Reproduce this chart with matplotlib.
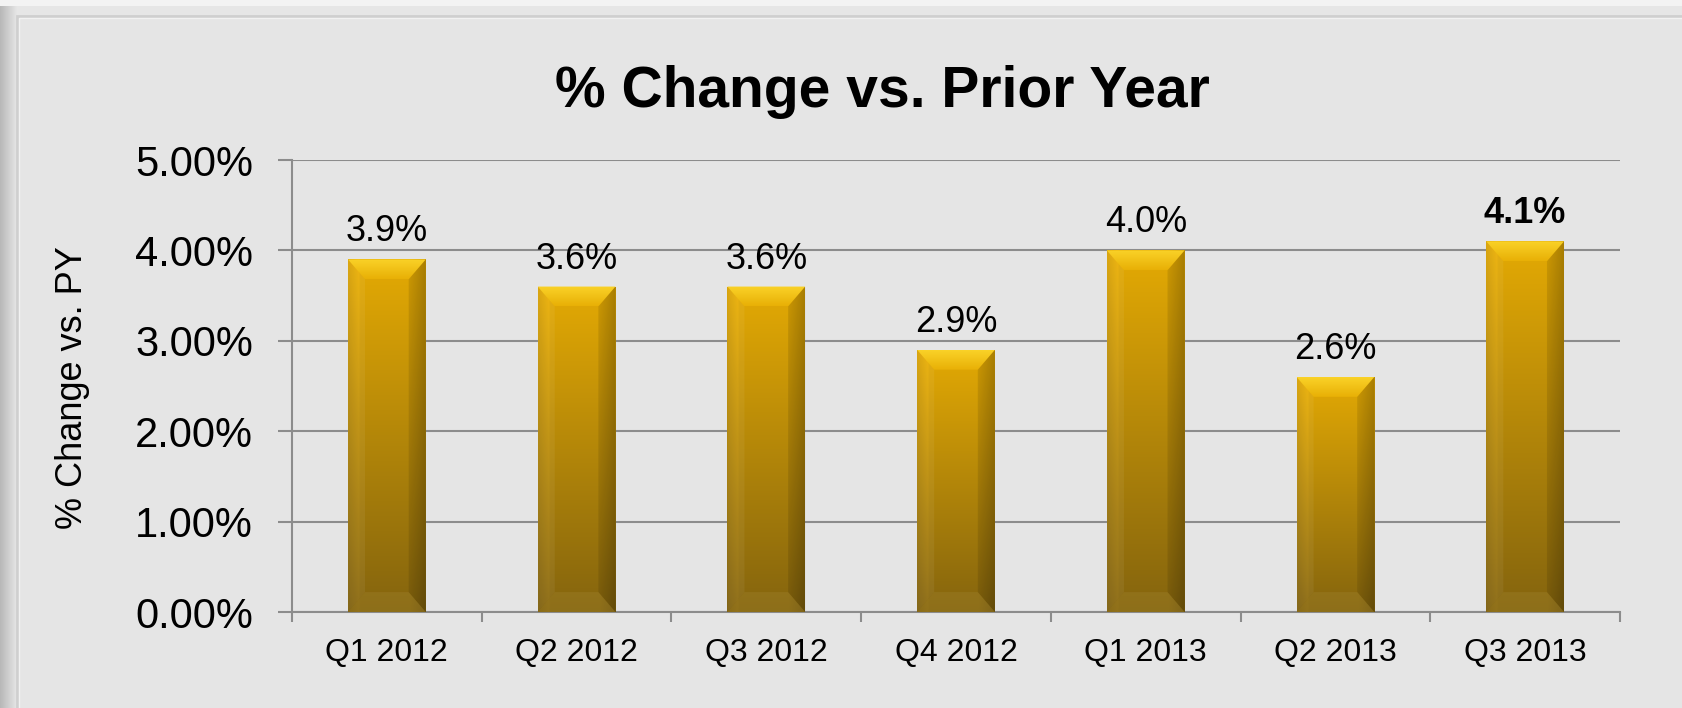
import numpy as np
import matplotlib
matplotlib.use("Agg")
import matplotlib.pyplot as plt
from matplotlib.patches import Rectangle, Polygon
from matplotlib.ticker import FixedLocator, FuncFormatter

plt.rcParams['font.family'] = ['Liberation Sans', 'DejaVu Sans']

categories = ["Q1 2012", "Q2 2012", "Q3 2012", "Q4 2012", "Q1 2013", "Q2 2013", "Q3 2013"]
values = [3.9, 3.6, 3.6, 2.9, 4.0, 2.6, 4.1]
labels = ["3.9%", "3.6%", "3.6%", "2.9%", "4.0%", "2.6%", "4.1%"]
bold_labels = [False, False, False, False, False, False, True]
yticks = [0, 1, 2, 3, 4, 5]

W, H = 1682, 708
fig = plt.figure(figsize=(W / 100, H / 100), dpi=100, facecolor='#e6e6e6')

# background decorations
bg = fig.add_axes([0, 0, 1, 1], zorder=-10)
bg.set_axis_off()
grad = np.linspace(0.72, 0.90, 32)[None, :, None] * np.ones((1, 1, 3))
bg.imshow(grad, extent=(0, 17, H, 0), aspect='auto')
bg.add_patch(Rectangle((0, 0), W, 6, color='#f3f3f3', lw=0))
bg.add_patch(Rectangle((17, 16), W, H, facecolor='#e5e5e5', edgecolor='#cfcfcf', lw=2))
bg.add_patch(Rectangle((19, 18), W, H, facecolor='none', edgecolor='#f2f2f2', lw=1))
bg.set_xlim(0, W); bg.set_ylim(H, 0)

ax = fig.add_axes([292 / W, 1 - 612 / H, (1620 - 292) / W, (612 - 160) / H])
ax.set_facecolor('none')

x = np.arange(len(categories))
bars = ax.bar(x, values, width=0.41, color='#c99a08', zorder=3, edgecolor='none')

# gradient body
ny = 200
t = np.linspace(0, 1, ny)[:, None]
top_c = np.array([228, 170, 4]) / 255
bot_c = np.array([132, 100, 14]) / 255
body = (1 - t)[..., None] * top_c + t[..., None] * bot_c
body = np.repeat(body, 40, axis=1)
colshade = np.ones(40)
colshade[:6] = np.linspace(0.95, 1.04, 6)
colshade[-9:] = np.linspace(1.0, 0.84, 9)
body = np.clip(body * colshade[None, :, None], 0, 1)

tt = np.linspace(0, 1, 50)[:, None]
bev_top = (1 - tt)[..., None] * (np.array([250, 210, 40]) / 255) + tt[..., None] * (np.array([232, 176, 6]) / 255)
bev_top = np.repeat(bev_top, 4, axis=1)

bx = 0.09   # bevel width in category units
by = 0.22   # bevel height in percent units
for b in bars:
    x0, w, h = b.get_x(), b.get_width(), b.get_height()
    im = ax.imshow(body, extent=(x0, x0 + w, 0, h), aspect='auto', zorder=4,
                   interpolation='bilinear')
    im.set_clip_path(b)
    # top bevel (gradient)
    tp = Polygon([(x0, h), (x0 + w, h), (x0 + w - bx, h - by), (x0 + bx, h - by)],
                 closed=True, facecolor='none', edgecolor='none', zorder=5)
    ax.add_patch(tp)
    imt = ax.imshow(bev_top, extent=(x0, x0 + w, h - by, h), aspect='auto', zorder=5,
                    interpolation='bilinear')
    imt.set_clip_path(tp)
    # left bevel
    ax.add_patch(Polygon([(x0, h), (x0 + bx, h - by), (x0 + bx, by), (x0, 0)],
                         closed=True, facecolor='white', edgecolor='none', zorder=5, alpha=0.06))
    # right bevel
    ax.add_patch(Polygon([(x0 + w, h), (x0 + w - bx, h - by), (x0 + w - bx, by), (x0 + w, 0)],
                         closed=True, facecolor='black', edgecolor='none', zorder=5, alpha=0.10))
    # bottom bevel
    ax.add_patch(Polygon([(x0, 0), (x0 + w, 0), (x0 + w - bx, by), (x0 + bx, by)],
                         closed=True, facecolor='#a08432', edgecolor='none', zorder=5, alpha=0.35))

for xi, v, lab, bd in zip(x, values, labels, bold_labels):
    ax.annotate(lab, (xi, v), xytext=(0, 13), textcoords='offset points',
                ha='center', va='baseline', fontsize=26,
                fontweight='bold' if bd else 'normal', color='black')

ax.set_xlim(-0.5, len(categories) - 0.5)
ax.set_ylim(0, 5)
ax.yaxis.set_major_locator(FixedLocator(yticks))
ax.yaxis.set_major_formatter(FuncFormatter(lambda v, p: f"{v:.2f}%"))
ax.grid(axis='y', color='#8c8c8c', lw=1.5, zorder=1)
ax.set_axisbelow(True)

ax.xaxis.set_major_locator(FixedLocator(np.arange(len(categories) + 1) - 0.5))
ax.xaxis.set_major_formatter(FuncFormatter(lambda v, p: ""))
ax.xaxis.set_minor_locator(FixedLocator(x))
ax.set_xticklabels(categories, minor=True)
ax.tick_params(axis='x', which='minor', length=0, labelsize=23, pad=19)
ax.tick_params(axis='x', which='major', length=7, width=1.5, color='#8c8c8c', direction='out')
ax.tick_params(axis='y', length=10, width=1.5, color='#8c8c8c', direction='out', labelsize=30, pad=18)

for s in ['top', 'right']:
    ax.spines[s].set_visible(False)
for s in ['left', 'bottom']:
    ax.spines[s].set_color('#8c8c8c')
    ax.spines[s].set_linewidth(1.5)

fig.text(73 / W, 1 - 388 / H, "% Change vs. PY", rotation=90, ha='center', va='center', fontsize=26)
fig.text(882 / W, 1 - 92 / H, "% Change vs. Prior Year", ha='center', va='center',
         fontsize=41, fontweight='bold')

fig.savefig('out.png', dpi=100, facecolor=fig.get_facecolor())
